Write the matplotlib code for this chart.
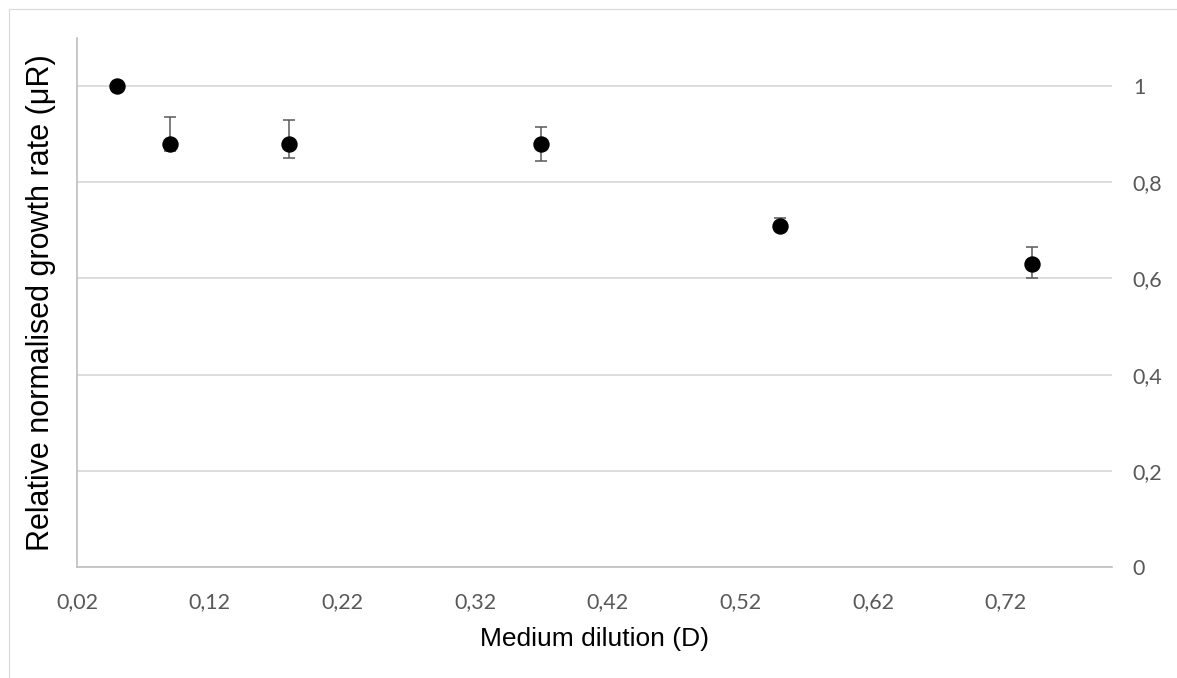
import numpy as np
import matplotlib
matplotlib.use("Agg")
import matplotlib.pyplot as plt
from matplotlib.patches import Rectangle
from matplotlib.ticker import FuncFormatter

# datos
dilucion = [0.05, 0.09, 0.18, 0.37, 0.55, 0.74]
tasa     = [1.00, 0.88, 0.88, 0.88, 0.71, 0.63]
err_sup  = [0.0, 0.056, 0.049, 0.035, 0.015, 0.035]
err_inf  = [0.0, 0.015, 0.029, 0.036, 0.010, 0.029]

W, H = 1177, 678
fig = plt.figure(figsize=(W / 100, H / 100), dpi=100)
fig.patch.set_facecolor('white')

# marco exterior gris
fig.patches.append(Rectangle((8.5 / W, -0.5), 2, 1.5 - 8.5 / H, transform=fig.transFigure,
                             fill=False, edgecolor='#d9d9d9', lw=0.8))

ax1 = fig.add_axes([77 / W, (H - 567) / H, (1112 - 77) / W, (567 - 38) / H])

ax1.errorbar(dilucion, tasa, yerr=[err_inf, err_sup], fmt='none', ecolor='#595959',
             elinewidth=1.1, capsize=4.3, capthick=1.1, zorder=3)
ax1.plot(dilucion, tasa, linestyle='none', marker='o', markersize=10.8,
         color='black', zorder=4)

ax1.set_xlim(0.02, 0.80)
ax1.set_ylim(0, 1.1)
ax1.set_xticks(np.arange(0.02, 0.73, 0.1))
ax1.set_yticks(np.arange(0, 1.01, 0.2))

coma = lambda v, p: ('%g' % round(v, 2)).replace('.', ',')
ax1.xaxis.set_major_formatter(FuncFormatter(coma))
ax1.yaxis.set_major_formatter(FuncFormatter(coma))

ax1.yaxis.tick_right()
ax1.tick_params(axis='both', length=0, labelsize=15.5, labelcolor='#595959')
ax1.tick_params(axis='x', pad=18)
ax1.tick_params(axis='y', pad=15)
for lab in ax1.get_xticklabels() + ax1.get_yticklabels():
    lab.set_family('Lato')
for lab in ax1.get_yticklabels():
    lab.set_horizontalalignment('left')

ax1.grid(axis='y', color='#d9d9d9', lw=1.3, zorder=0)
ax1.set_axisbelow(True)
for s in ['top', 'right']:
    ax1.spines[s].set_visible(False)
for s in ['left', 'bottom']:
    ax1.spines[s].set_color('#bfbfbf')
    ax1.spines[s].set_linewidth(1.2)

ax1.set_xlabel('Medium dilution (D)', fontsize=19, family='Liberation Sans', labelpad=11)
ax1.set_ylabel('Relative normalised growth rate (μR)', fontsize=22, family='Liberation Sans', labelpad=15)
ax1.yaxis.set_label_position('left')

plt.savefig('out.png', dpi=100, facecolor='white')
